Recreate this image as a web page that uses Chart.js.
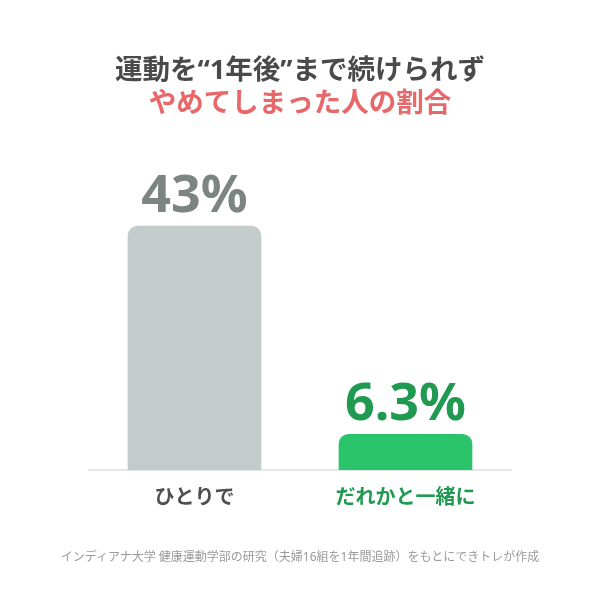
<!DOCTYPE html>
<html lang="ja">
<head>
<meta charset="utf-8">
<script src="https://cdn.jsdelivr.net/npm/chart.js@4"></script>
<style>
  html, body { margin: 0; padding: 0; background: #fff; }
  #wrap { position: relative; width: 600px; height: 600px; }
  #note {
    position: absolute; left: 0; right: 0; top: 547px;
    text-align: center; font: 12px "Noto Sans", "Noto Sans CJK JP", sans-serif; color: #9a9a9a;
  }
</style>
</head>
<body>
<div id="wrap">
  <canvas id="chart"></canvas>
  <div id="note">インディアナ大学 健康運動学部の研究（夫婦16組を1年間追跡）をもとにできトレが作成</div>
</div>
<script>
const categories = ['ひとりで', 'だれかと一緒に'];
const dropoutRate = [43, 6.3];
const valueLabels = ['43%', '6.3%'];

const FONT = '"Noto Sans", "Noto Sans CJK JP", sans-serif';
const barColors = ['#c4cbcb', '#2bc46b'];
const labelColors = ['#7d8583', '#1f9a50'];
const tickColors = ['#4f4f4f', '#1f9a50'];

// big number above each bar
const valueLabelPlugin = {
  id: 'valueLabels',
  afterDatasetsDraw(chart) {
    const ctx = chart.ctx;
    const meta = chart.getDatasetMeta(0);
    ctx.save();
    ctx.font = 'bold 52px ' + FONT;
    ctx.textAlign = 'center';
    ctx.textBaseline = 'alphabetic';
    meta.data.forEach((bar, i) => {
      ctx.fillStyle = labelColors[i];
      ctx.fillText(valueLabels[i], bar.x, bar.y - 14);
    });
    ctx.restore();
  }
};

new Chart(document.getElementById('chart'), {
  type: 'bar',
  data: {
    labels: categories,
    datasets: [{
      data: dropoutRate,
      backgroundColor: barColors,
      borderRadius: 10,
      barThickness: 133
    }]
  },
  options: {
    responsive: true,
    maintainAspectRatio: false,
    animation: false,
    layout: { padding: { left: 89, right: 89, top: 0, bottom: 82 } },
    plugins: {
      legend: { display: false },
      tooltip: { enabled: false },
      title: {
        display: true,
        text: '運動を“1年後”まで続けられず',
        color: '#4a4a4a',
        font: { family: FONT, size: 27.5, weight: 'bold' },
        padding: { top: 55, bottom: 0 }
      },
      subtitle: {
        display: true,
        text: 'やめてしまった人の割合',
        color: '#e8686a',
        font: { family: FONT, size: 27.5, weight: 'bold' },
        padding: { top: 0, bottom: 20 }
      }
    },
    scales: {
      x: {
        grid: { display: false },
        border: { display: true, color: '#e2e6e6', width: 2 },
        ticks: {
          color: ctx => tickColors[ctx.index],
          font: { family: FONT, size: 20, weight: 'bold' },
          padding: 8
        }
      },
      y: {
        display: false,
        min: 0,
        max: 58
      }
    }
  },
  plugins: [valueLabelPlugin]
});
</script>
</body>
</html>
